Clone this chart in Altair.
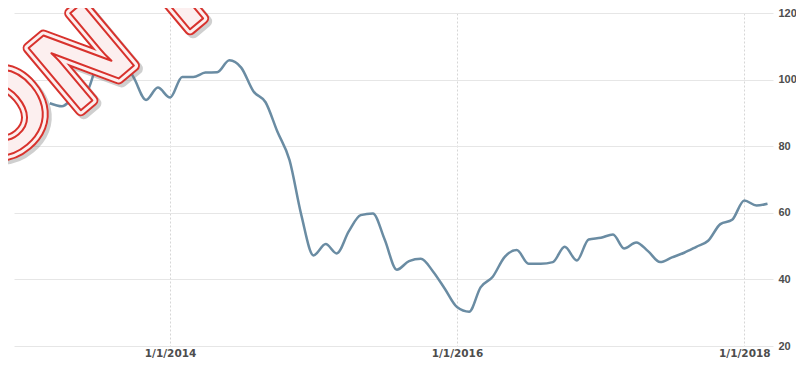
import altair as alt
import pandas as pd

# ---- data (monthly, first of month) ----
months = pd.date_range("2013-03-01", "2018-03-01", freq="MS").strftime("%Y-%m-%d").tolist()
prices = [
    92.9, 92.0, 94.5, 95.8, 104.5, 106.5, 106.2, 100.5, 93.9, 97.6,            # 2013 Mar-Dec
    94.6, 100.8, 100.8, 102.1, 102.2, 105.8, 103.6, 96.5, 93.2, 84.4, 75.8, 59.3,  # 2014
    47.2, 50.6, 47.8, 54.5, 59.3, 59.8, 52.0, 42.9, 45.5, 46.2, 42.4, 37.2,     # 2015
    31.7, 30.3, 37.6, 40.8, 46.7, 48.8, 44.7, 44.7, 45.2, 49.8, 45.7, 52.0,     # 2016
    52.5, 53.5, 49.3, 51.1, 48.5, 45.2, 46.6, 48.0, 49.8, 51.6, 56.6, 57.9,     # 2017
    63.7, 62.2, 62.7,                                                            # 2018
]
x_tick_years = [2014, 2016, 2018]
y_ticks = [20, 40, 60, 80, 100, 120]
stamp_letters = ["O", "N", "T", "O"]

df = pd.DataFrame({"date": months, "price": prices})

LABEL_COLOR = "#4d4d4d"

line = alt.Chart(df).mark_line(
    color="#6a8ca3", strokeWidth=2.5, interpolate="monotone"
).encode(
    x=alt.X(
        "date:T",
        scale=alt.Scale(
            type="utc",
            domain=[alt.DateTime(year=2012, month=11, date=30, utc=True),
                    alt.DateTime(year=2018, month=3, date=15, utc=True)],
        ),
        axis=alt.Axis(
            values=[alt.DateTime(year=y, month=1, date=1, utc=True) for y in x_tick_years],
            labelExpr="(utcmonth(datum.value) + 1) + '/' + utcdate(datum.value) + '/' + utcyear(datum.value)",
            grid=True, gridColor="#d6d6d6", gridDash=[2, 2], gridWidth=1,
            ticks=False, domain=False, title=None,
            labelFont="DejaVu Sans", labelFontSize=10.5, labelFontWeight="bold",
            labelColor=LABEL_COLOR, labelPadding=2, labelFlush=False,
        ),
    ),
    y=alt.Y(
        "price:Q",
        scale=alt.Scale(domain=[20, 120], nice=False, zero=False),
        axis=alt.Axis(
            orient="right", values=y_ticks, grid=True, gridColor="#e6e6e6", gridWidth=1,
            ticks=False, domain=False, title=None,
            labelFont="Liberation Sans", labelFontSize=11, labelFontWeight="bold",
            labelColor=LABEL_COLOR, labelPadding=5,
        ),
    ),
)

# ---- red "stamp" watermark drawn on top ----
stamp_pos = [(-10, 104), (71, 48), (160, -16), (246, -60)]
RED = "#d8322d"
PINK = "#fcefef"
layers = [line]
common = dict(font="Liberation Sans", fontSize=118, fontWeight="bold", angle=320,
              align="center", baseline="middle", strokeJoin="round")
for letter, (px, py) in zip(stamp_letters, stamp_pos):
    d = pd.DataFrame({"t": [letter]})
    layers.append(alt.Chart(d).mark_text(fill="#777777", stroke="#777777", strokeWidth=12,
                                         opacity=0.35, **common)
                  .encode(x=alt.value(px + 3), y=alt.value(py + 3), text="t:N"))
    layers.append(alt.Chart(d).mark_text(fill=RED, stroke=RED, strokeWidth=12, **common)
                  .encode(x=alt.value(px), y=alt.value(py), text="t:N"))
    layers.append(alt.Chart(d).mark_text(fill=PINK, stroke=PINK, strokeWidth=8, **common)
                  .encode(x=alt.value(px), y=alt.value(py), text="t:N"))
    layers.append(alt.Chart(d).mark_text(fill=PINK, stroke=RED, strokeWidth=2, **common)
                  .encode(x=alt.value(px), y=alt.value(py), text="t:N"))

chart = alt.layer(*layers).properties(
    width=759, height=333,
    autosize=alt.AutoSizeParams(type="none"),
    padding={"left": 6, "top": 5, "right": 23, "bottom": 13},
    background="white",
).configure_view(stroke=None)

chart.save("out.html", embed_options={"renderer": "svg", "actions": False})
